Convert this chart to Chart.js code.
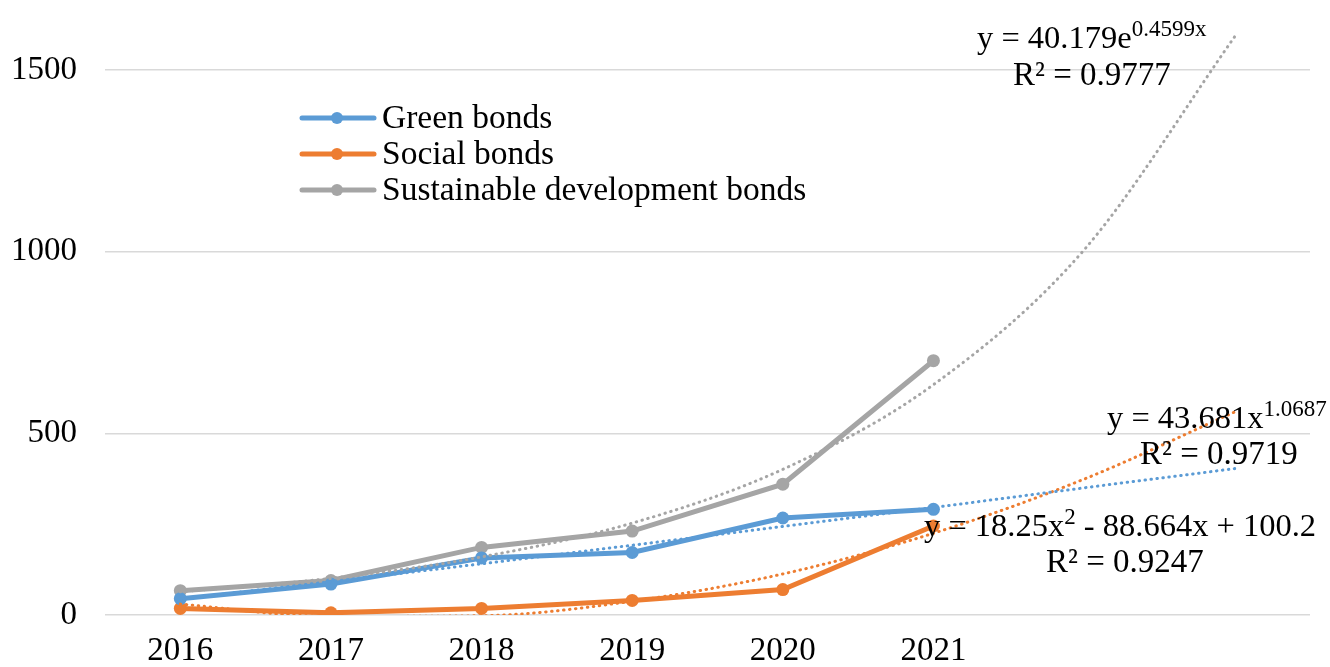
<!DOCTYPE html>
<html>
<head>
<meta charset="utf-8">
<script src="https://cdn.jsdelivr.net/npm/chart.js@4.4.1/dist/chart.umd.min.js"></script>
<style>
  html, body { margin: 0; padding: 0; background: #fff; }
  #wrap { width: 1330px; height: 667px; }
</style>
</head>
<body>
<div id="wrap"><canvas id="chart-bonds"></canvas></div>
<script>
// categories (last two slots are the trendline forecast periods)
const years = ['2016', '2017', '2018', '2019', '2020', '2021', '', ''];

// series values
const greenBonds = [45, 85, 157, 172, 267, 291];
const socialBonds = [18, 6, 18, 40, 70, 245];
const sustainableBonds = [67, 95, 186, 231, 360, 700];

// trendline values
const greenTrend = [44, 92, 141, 192, 244, 296, 350, 403];
const socialTrend = [30, -4, -2, 38, 113, 225, 374, 559];
const sustainableTrend = [64, 101, 160, 253, 401, 634, 1005, 1592];

const yTicks = [0, 500, 1000, 1500];

const seriesNames = ['Green bonds', 'Social bonds', 'Sustainable development bonds'];
const colors = ['#5B9BD5', '#ED7D31', '#A5A5A5'];

// trendline equations
const equations = [
  { parts: [['y = 40.179e', false], ['0.4599x', true]], r2: 'R² = 0.9777', x: 977, y: 48, rx: 1013, ry: 85 },
  { parts: [['y = 43.681x', false], ['1.0687', true]], r2: 'R² = 0.9719', x: 1107, y: 428, rx: 1140, ry: 464 },
  { parts: [['y = 18.25x', false], ['2', true], [' - 88.664x + 100.2', false]], r2: 'R² = 0.9247', x: 924, y: 536, rx: 1046, ry: 572 }
];

const FONT = '"Liberation Serif", "Times New Roman", serif';

const ctx = document.getElementById('chart-bonds');

const lineSet = (label, data, color) => ({
  label: label,
  data: data,
  borderColor: color,
  backgroundColor: color,
  borderWidth: 5,
  pointRadius: 6.5,
  pointHoverRadius: 6.5,
  pointBorderWidth: 0,
  tension: 0,
  order: 2
});

const trendSet = (label, data, color) => ({
  label: label,
  data: data,
  borderColor: color,
  borderWidth: 3,
  borderDash: [0.5, 5.5],
  borderCapStyle: 'round',
  pointRadius: 0,
  cubicInterpolationMode: 'monotone',
  fill: false,
  order: 1
});

// legend drawn inside the plot area, line + dot markers like the original
const insideLegend = {
  id: 'insideLegend',
  afterDraw(chart) {
    const c = chart.ctx;
    c.save();
    seriesNames.forEach((name, i) => {
      const y = 118 + i * 36;
      c.strokeStyle = colors[i];
      c.fillStyle = colors[i];
      c.lineWidth = 5;
      c.lineCap = 'round';
      c.beginPath();
      c.moveTo(302, y);
      c.lineTo(374, y);
      c.stroke();
      c.beginPath();
      c.arc(337, y, 6, 0, Math.PI * 2);
      c.fill();
      c.fillStyle = '#000';
      c.font = '33.5px ' + FONT;
      c.textBaseline = 'middle';
      c.textAlign = 'left';
      c.fillText(name, 382, y + 1);
    });
    c.restore();
  }
};

const trendLabels = {
  id: 'trendLabels',
  afterDraw(chart) {
    const c = chart.ctx;
    c.save();
    c.fillStyle = '#000';
    c.textBaseline = 'alphabetic';
    c.textAlign = 'left';
    equations.forEach(eq => {
      let x = eq.x;
      eq.parts.forEach(([t, sup]) => {
        c.font = (sup ? '23px ' : '32.5px ') + FONT;
        c.fillText(t, x, sup ? eq.y - 12 : eq.y);
        x += c.measureText(t).width;
      });
      c.font = '33px ' + FONT;
      c.fillText(eq.r2, eq.rx, eq.ry);
    });
    c.restore();
  }
};

new Chart(ctx, {
  type: 'line',
  data: {
    labels: years,
    datasets: [
      trendSet('Green trend', greenTrend, colors[0]),
      trendSet('Social trend', socialTrend, colors[1]),
      trendSet('Sustainable trend', sustainableTrend, colors[2]),
      lineSet(seriesNames[0], greenBonds, colors[0]),
      lineSet(seriesNames[1], socialBonds, colors[1]),
      lineSet(seriesNames[2], sustainableBonds, colors[2])
    ]
  },
  options: {
    responsive: true,
    maintainAspectRatio: false,
    animation: false,
    layout: { padding: { top: 0, right: 20, left: 0, bottom: 0 } },
    plugins: {
      legend: { display: false },
      tooltip: { enabled: false }
    },
    scales: {
      x: {
        offset: true,
        grid: { display: false },
        border: { display: false },
        ticks: {
          color: '#000',
          font: { family: FONT, size: 33 },
          padding: 9,
          maxRotation: 0,
          autoSkip: false
        },
        afterFit(scale) { scale.height = 52; }
      },
      y: {
        min: 0,
        max: 1675,
        bounds: 'data',
        grid: { color: '#d9d9d9', lineWidth: 1.5, drawTicks: false },
        border: { display: false },
        afterBuildTicks(scale) { scale.ticks = yTicks.map(v => ({ value: v })); },
        ticks: {
          color: '#000',
          font: { family: FONT, size: 33 },
          padding: 28,
          callback: v => String(v)
        },
        afterFit(scale) {
          scale.width = 105;
          scale.paddingTop = 0;
        }
      }
    }
  },
  plugins: [insideLegend, trendLabels]
});
</script>
</body>
</html>
